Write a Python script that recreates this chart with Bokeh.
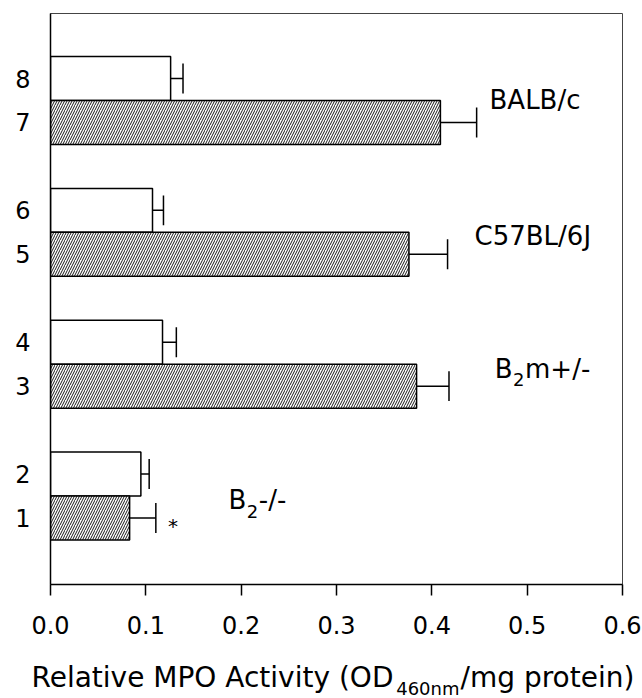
from bokeh.plotting import figure
from bokeh.models import Range1d, FixedTicker, ColumnDataSource
from bokeh.layouts import column
from bokeh.core.properties import value
from bokeh.embed import file_html
from bokeh.resources import INLINE

# ---- data ----
groups = ["B2-/-", "B2m+/-", "C57BL/6J", "BALB/c"]
group_main = ["B", "B", "C57BL/6J", "BALB/c"]
group_sub = ["2", "2", "", ""]
group_rest = ["-/-", "m+/-", "", ""]
bar_labels = ["1", "2", "3", "4", "5", "6", "7", "8"]
hatched_vals = [0.083, 0.384, 0.376, 0.409]      # bars 1,3,5,7
hatched_err = [0.0275, 0.034, 0.0405, 0.038]
open_vals = [0.0948, 0.1175, 0.107, 0.126]       # bars 2,4,6,8
open_err = [0.0087, 0.0145, 0.0115, 0.013]
x_ticks = [0.0, 0.1, 0.2, 0.3, 0.4, 0.5, 0.6]
x_tick_labels = ["0.0", "0.1", "0.2", "0.3", "0.4", "0.5", "0.6"]
xlabel_main = "Relative MPO Activity (OD"
xlabel_sub = "460nm"
xlabel_rest = "/mg protein)"

FONT = "DejaVu Sans"

# positions: each group takes 3 slots (hatched, open, gap)
hy = [3 * g for g in range(len(groups))]
oy = [3 * g + 1 for g in range(len(groups))]

W = 642
H1 = 646
H2 = 52
ML, MR = 50, 20

xr = Range1d(0, 0.6)
p = figure(width=W, height=H1, x_range=xr,
           y_range=Range1d(-1.513, 11.479),
           output_backend="svg", toolbar_location=None,
           min_border_left=ML, min_border_right=MR,
           min_border_top=13, min_border_bottom=H1 - 584)
p.frame_align = False

hsrc = ColumnDataSource(dict(y=hy, v=hatched_vals,
                             up=[a + b for a, b in zip(hatched_vals, hatched_err)],
                             y0=[y - 0.34 for y in hy], y1=[y + 0.34 for y in hy]))
osrc = ColumnDataSource(dict(y=oy, v=open_vals,
                             up=[a + b for a, b in zip(open_vals, open_err)],
                             y0=[y - 0.34 for y in oy], y1=[y + 0.34 for y in oy]))

for src in (hsrc, osrc):
    p.segment(x0="v", y0="y", x1="up", y1="y", source=src, line_color="black", line_width=1.5)
    p.segment(x0="up", y0="y0", x1="up", y1="y1", source=src, line_color="black", line_width=1.5)

p.hbar(y="y", right="v", left=0, height=1.0, source=osrc,
       fill_color="white", line_color="black", line_width=1.5)
p.hbar(y="y", right="v", left=0, height=1.0, source=hsrc,
       fill_color="white", line_color="black", line_width=1.5,
       hatch_pattern="/", hatch_color="black", hatch_scale=5, hatch_weight=0.9)

# group labels (with subscripts)
lab_x = [0.1867, 0.466, 0.4448, 0.4605]
lab_y = [0.40, 3.40, 6.42, 9.52]
fs = 26
wB = 0.686 * fs
sub_fs = 18
gsrc_main = ColumnDataSource(dict(x=lab_x, y=lab_y, t=group_main))
p.text(x="x", y="y", text="t", source=gsrc_main, text_font=value(FONT),
       text_font_size=f"{fs}px", text_baseline="middle", text_align="left", text_color="black")
sub_idx = [i for i, s in enumerate(group_sub) if s]
ssrc = ColumnDataSource(dict(x=[lab_x[i] for i in sub_idx], y=[lab_y[i] for i in sub_idx],
                             t=[group_sub[i] for i in sub_idx]))
p.text(x="x", y="y", text="t", source=ssrc, text_font=value(FONT),
       text_font_size=f"{sub_fs}px", text_baseline="middle", text_align="left",
       x_offset=wB + 0.5, y_offset=11, text_color="black")
rsrc = ColumnDataSource(dict(x=[lab_x[i] for i in sub_idx], y=[lab_y[i] for i in sub_idx],
                             t=[group_rest[i] for i in sub_idx]))
p.text(x="x", y="y", text="t", source=rsrc, text_font=value(FONT),
       text_font_size=f"{fs}px", text_baseline="middle", text_align="left",
       x_offset=wB + 0.636 * sub_fs + 1, text_color="black")

# significance star next to bar 1's error bar
p.text(x=[hatched_vals[0] + hatched_err[0] + 0.018], y=[hy[0]], text=["*"],
       text_font=value(FONT), text_font_size="20px", text_baseline="alphabetic",
       text_align="center", y_offset=8, text_color="black")

# axes
p.xgrid.grid_line_color = None
p.ygrid.grid_line_color = None
p.outline_line_color = "#444444"
p.outline_line_width = 1

xa = p.xaxis[0]
xa.ticker = FixedTicker(ticks=x_ticks)
xa.major_label_overrides = {t: l for t, l in zip(x_ticks, x_tick_labels)}
xa.major_tick_out = 11
xa.major_tick_in = 0
xa.minor_tick_out = 0
xa.minor_tick_in = 0
xa.axis_line_width = 1.5
xa.major_tick_line_width = 1.5
xa.major_label_text_font = FONT
xa.major_label_text_font_size = "24px"
xa.major_label_text_color = "black"
xa.major_label_standoff = 20

ya = p.yaxis[0]
ally = sorted(hy + oy)
ya.ticker = FixedTicker(ticks=ally)
ya.major_label_overrides = {y: l for y, l in zip(ally, bar_labels)}
ya.major_tick_out = 0
ya.major_tick_in = 0
ya.minor_tick_out = 0
ya.minor_tick_in = 0
ya.axis_line_width = 1.5
ya.major_label_text_font = FONT
ya.major_label_text_font_size = "24px"
ya.major_label_text_color = "black"
ya.major_label_standoff = 20

# x axis title with subscript, drawn in a strip below the chart (pixel units)
p2 = figure(width=W, height=H2, x_range=Range1d(0, W), y_range=Range1d(0, H2),
            output_backend="svg", toolbar_location=None,
            x_axis_location=None, y_axis_location=None,
            min_border_left=0, min_border_right=0, min_border_top=0, min_border_bottom=0)
p2.frame_align = False
p2.xgrid.grid_line_color = None
p2.ygrid.grid_line_color = None
p2.outline_line_color = None

xfs = 28
xsfs = 18
w1 = 12.99 * xfs
w2 = 3.516 * xsfs
base_y = H2 - (677 - H1)
x0 = 31
p2.text(x=[x0], y=[base_y], text=[xlabel_main], text_font=value(FONT),
        text_font_size=f"{xfs}px", text_baseline="alphabetic", text_align="left", text_color="black")
p2.text(x=[x0 + w1 + 1], y=[base_y], text=[xlabel_sub], y_offset=11, text_font=value(FONT),
        text_font_size=f"{xsfs}px", text_baseline="alphabetic", text_align="left", text_color="black")
p2.text(x=[x0 + w1 + w2 + 2], y=[base_y], text=[xlabel_rest], text_font=value(FONT),
        text_font_size=f"{xfs}px", text_baseline="alphabetic", text_align="left", text_color="black")

layout = column(p, p2, spacing=0)
open("out.html", "w").write(file_html(layout, INLINE))
